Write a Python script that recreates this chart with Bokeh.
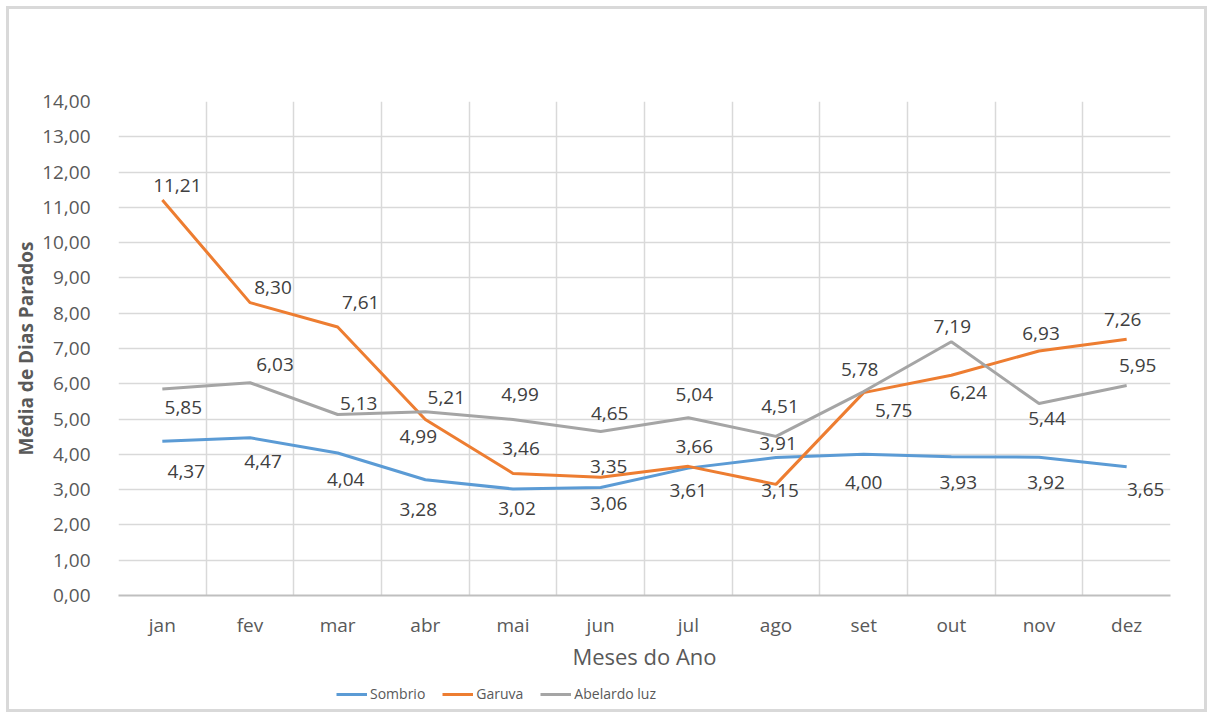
from bokeh.plotting import figure
from bokeh.layouts import column
from bokeh.models import (FixedTicker, Range1d, Legend, LegendItem, ColumnDataSource)
from bokeh.core.properties import value
from bokeh.embed import file_html
from bokeh.resources import INLINE

months = ["jan", "fev", "mar", "abr", "mai", "jun", "jul", "ago", "set", "out", "nov", "dez"]
sombrio = [4.37, 4.47, 4.04, 3.28, 3.02, 3.06, 3.61, 3.91, 4.00, 3.93, 3.92, 3.65]
garuva = [11.21, 8.30, 7.61, 4.99, 3.46, 3.35, 3.66, 3.15, 5.75, 6.24, 6.93, 7.26]
abelardo = [5.85, 6.03, 5.13, 5.21, 4.99, 4.65, 5.04, 4.51, 5.78, 7.19, 5.44, 5.95]
y_ticks = list(range(0, 15))

# label pixel offsets (styles)
off_s = [(24, 30), (13, 24), (8, 27), (-7, 30), (4, 20), (8, 16), (0, 22), (2, -14), (0, 28), (7, 26), (7, 25), (19, 23)]
off_g = [(15, -14), (23, -15), (23, -24), (-7, 17), (8, -25), (8, -11), (6, -20), (4, 6), (30, 18), (17, 17), (2, -17), (-4, -20)]
off_a = [(21, 18), (25, -18), (21, -11), (21, -14), (7, -25), (9, -18), (6, -23), (4, -30), (-4, -22), (1, -15), (8, 15), (11, -20)]

FONT = "Open Sans"
TXT = "#595959"

p = figure(width=1213, height=673, output_backend="svg", toolbar_location=None,
           x_range=Range1d(-0.5, len(months) - 0.5), y_range=Range1d(0, 14),
           min_border_left=118, min_border_right=43, min_border_top=101, min_border_bottom=74)
p.outline_line_color = None
p.background_fill_color = "white"
p.border_fill_color = None

xs = list(range(len(months)))

# grids
p.xgrid.ticker = FixedTicker(ticks=[i - 0.5 for i in range(len(months) + 1)])
p.xgrid.grid_line_color = "#d9d9d9"
p.xgrid.grid_line_width = 1.5
p.ygrid.ticker = FixedTicker(ticks=y_ticks)
p.ygrid.grid_line_color = "#d9d9d9"
p.ygrid.grid_line_width = 1.5

# x axis
p.xaxis.ticker = FixedTicker(ticks=xs)
p.xaxis.major_label_overrides = {i: m for i, m in enumerate(months)}
p.xaxis.major_tick_line_color = None
p.xaxis.minor_tick_line_color = None
p.xaxis.axis_line_color = "#bfbfbf"
p.xaxis.axis_line_width = 2
p.xaxis.major_label_standoff = 10
p.xaxis.major_label_text_font = FONT
p.xaxis.major_label_text_font_size = "19px"
p.xaxis.major_label_text_color = TXT
p.xaxis.axis_label = "Meses do Ano"
p.xaxis.axis_label_text_font = FONT
p.xaxis.axis_label_text_font_style = "normal"
p.xaxis.axis_label_text_font_size = "22px"
p.xaxis.axis_label_text_color = TXT
p.xaxis.axis_label_standoff = 0

# y axis
p.yaxis.ticker = FixedTicker(ticks=y_ticks)
p.yaxis.major_label_overrides = {t: f"{t:.2f}".replace(".", ",") for t in y_ticks}
p.yaxis.major_tick_line_color = None
p.yaxis.minor_tick_line_color = None
p.yaxis.axis_line_color = None
p.yaxis.major_label_standoff = 22
p.yaxis.major_label_text_font = FONT
p.yaxis.major_label_text_font_size = "19px"
p.yaxis.major_label_text_color = TXT
p.yaxis.axis_label = "Média de Dias Parados"
p.yaxis.axis_label_text_font = FONT
p.yaxis.axis_label_text_font_style = "bold"
p.yaxis.axis_label_text_font_size = "19px"
p.yaxis.axis_label_text_color = TXT
p.yaxis.axis_label_standoff = 0

series = [("Sombrio", sombrio, "#5B9BD5", off_s),
          ("Garuva", garuva, "#ED7D31", off_g),
          ("Abelardo luz", abelardo, "#A5A5A5", off_a)]

for name, vals, color, offs in series:
    p.line(xs, vals, line_color=color, line_width=3)

for name, vals, color, offs in series:
    src = ColumnDataSource(dict(x=xs, y=vals,
                                t=[f"{v:.2f}".replace(".", ",") for v in vals],
                                dx=[o[0] for o in offs], dy=[o[1] for o in offs]))
    p.text(x="x", y="y", text="t", x_offset="dx", y_offset="dy", source=src,
           text_align="center", text_baseline="middle", text_font=value(FONT),
           text_font_size="19px", text_color="#404040")

# legend strip (lines lie outside its tiny range, only the legend shows)
lg = figure(width=1213, height=45, output_backend="svg", toolbar_location=None,
            x_range=Range1d(0, 1), y_range=Range1d(0, 1),
            min_border=0, x_axis_type=None, y_axis_type=None)
lg.outline_line_color = None
lg.background_fill_color = None
lg.border_fill_color = None
lg.grid.visible = False
items = []
for name, vals, color, offs in series:
    r = lg.line(xs, vals, line_color=color, line_width=3)
    items.append(LegendItem(label=name, renderers=[r]))
legend = Legend(items=items, orientation="horizontal", location=(218, 15),
                glyph_width=31, glyph_height=16, label_standoff=3, spacing=17,
                padding=0, margin=0, border_line_color=None, background_fill_alpha=0,
                label_text_font=FONT, label_text_font_size="14px", label_text_color=TXT)
lg.add_layout(legend, "center")

layout = column(p, lg, spacing=0)
layout.styles = {"box-shadow": "inset 0 0 0 6px white, inset 0 0 0 9px #d9d9d9",
                 "background": "white"}

open("out.html", "w").write(file_html(layout, INLINE))
